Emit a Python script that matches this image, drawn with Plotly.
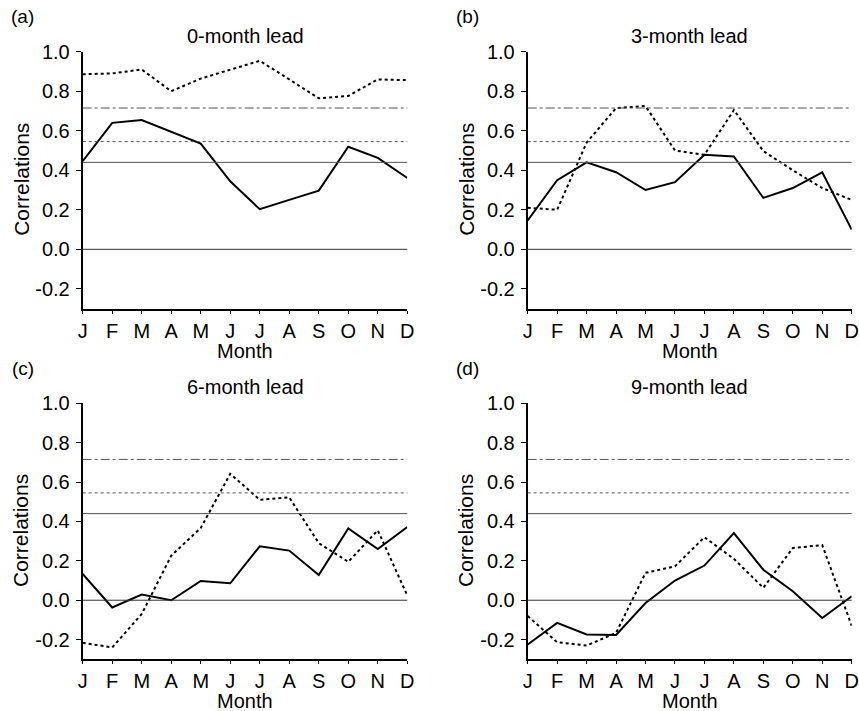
import plotly.graph_objects as go

months = [1, 2, 3, 4, 5, 6, 7, 8, 9, 10, 11, 12]
month_labels = ["J", "F", "M", "A", "M", "J", "J", "A", "S", "O", "N", "D"]
y_ticks = [-0.2, 0.0, 0.2, 0.4, 0.6, 0.8, 1.0]
y_tick_labels = ["-0.2", "0.0", "0.2", "0.4", "0.6", "0.8", "1.0"]
sig_levels = [0.44, 0.545, 0.715]
sig_dashes = ["solid", "dot", "dashdot"]

panel_letters = ["(a)", "(b)", "(c)", "(d)"]
panel_titles = ["0-month lead", "3-month lead", "6-month lead", "9-month lead"]

solid_a = [0.446, 0.64, 0.654, 0.593, 0.535, 0.344, 0.203, 0.25, 0.297, 0.519, 0.463, 0.361]
dotted_a = [0.886, 0.89, 0.91, 0.80, 0.864, 0.908, 0.954, 0.86, 0.764, 0.776, 0.86, 0.856]

solid_b = [0.146, 0.35, 0.44, 0.39, 0.30, 0.34, 0.478, 0.47, 0.26, 0.31, 0.39, 0.10]
dotted_b = [0.21, 0.20, 0.54, 0.715, 0.725, 0.50, 0.478, 0.705, 0.497, 0.40, 0.31, 0.25]

solid_c = [0.133, -0.037, 0.029, 0.0, 0.098, 0.086, 0.274, 0.252, 0.128, 0.365, 0.26, 0.372]
dotted_c = [-0.216, -0.24, -0.07, 0.226, 0.367, 0.642, 0.51, 0.522, 0.29, 0.195, 0.355, 0.024]

solid_d = [-0.225, -0.115, -0.174, -0.176, -0.014, 0.10, 0.176, 0.341, 0.155, 0.046, -0.09, 0.02]
dotted_d = [-0.08, -0.213, -0.23, -0.166, 0.139, 0.172, 0.32, 0.21, 0.063, 0.265, 0.28, -0.13]

solid_series = [solid_a, solid_b, solid_c, solid_d]
dotted_series = [dotted_a, dotted_b, dotted_c, dotted_d]

W, H = 859, 711
FONT = "Liberation Sans, Arial, sans-serif"
FS = 20

# pixel boxes of panels (left, right, top, bottom)
boxes = [
    (82.7, 407.3, 51.7, 308.6),
    (527.7, 851.7, 51.7, 308.6),
    (82.7, 407.3, 403.3, 659.3),
    (527.7, 851.7, 403.3, 659.3),
]

fig = go.Figure()
layout = dict(
    template="none",
    width=W, height=H,
    margin=dict(l=0, r=0, t=0, b=0, pad=0),
    paper_bgcolor="white", plot_bgcolor="white",
    showlegend=False,
    font=dict(family=FONT, size=FS, color="black"),
)
annotations = []
shapes = []

for i in range(4):
    n = i + 1
    L, R, T, B = boxes[i]
    xd = [L / W, R / W]
    yd = [1 - B / H, 1 - T / H]
    xa = "x" if n == 1 else f"x{n}"
    ya = "y" if n == 1 else f"y{n}"
    common_x = dict(range=[1, 12], tickvals=months, domain=xd, showgrid=False, zeroline=False,
                    automargin=False)
    common_y = dict(range=[-0.3, 1.0], tickvals=y_ticks, domain=yd, showgrid=False, zeroline=False,
                    automargin=False)
    layout[f"xaxis{n}"] = dict(
        **common_x, anchor=ya, ticktext=month_labels, ticks="outside", ticklen=3,
        tickwidth=1, tickcolor="black", showline=True, linewidth=2, linecolor="black",
        tickfont=dict(size=FS, family=FONT), ticklabelstandoff=0,
    )
    layout[f"yaxis{n}"] = dict(
        **common_y, anchor=xa, ticktext=y_tick_labels, ticks="outside", ticklen=5,
        tickwidth=1, tickcolor="black", showline=True, linewidth=2, linecolor="black",
        tickfont=dict(size=FS, family=FONT), ticklabelstandoff=2,
    )
    # top axis (thin line, inward ticks) and right axis (inward ticks)
    layout[f"xaxis{n + 4}"] = dict(
        **common_x, overlaying=xa, anchor=ya, side="top", ticks="inside", ticklen=4,
        tickwidth=1, tickcolor="black", showline=True, linewidth=1, linecolor="black",
        showticklabels=False,
    )
    layout[f"yaxis{n + 4}"] = dict(
        **common_y, overlaying=ya, anchor=xa, side="right", ticks="inside", ticklen=5,
        tickwidth=1, tickcolor="black", showline=True, linewidth=2, linecolor="black",
        showticklabels=False,
    )

    # zero line and significance levels
    shapes.append(dict(type="line", xref=f"{xa} domain", yref=ya, x0=0, x1=1, y0=0, y1=0,
                       line=dict(color="#333333", width=1)))
    for lev, dsh in zip(sig_levels, sig_dashes):
        shapes.append(dict(type="line", xref=f"{xa} domain", yref=ya, x0=0, x1=1, y0=lev, y1=lev,
                           line=dict(color="#555555", width=1, dash=dsh)))

    fig.add_trace(go.Scatter(x=months, y=dotted_series[i], mode="lines", xaxis=xa, yaxis=ya,
                             line=dict(color="black", width=2, dash="dot")))
    fig.add_trace(go.Scatter(x=months, y=solid_series[i], mode="lines", xaxis=xa, yaxis=ya,
                             line=dict(color="black", width=2)))

    cx = (L + R) / 2
    # panel letter
    annotations.append(dict(text=panel_letters[i], x=(L - 60) / W, y=1 - (T - 35) / H,
                            xref="paper", yref="paper", xanchor="center", yanchor="middle",
                            showarrow=False, font=dict(size=FS - 1)))
    # title
    annotations.append(dict(text=panel_titles[i], x=cx / W, y=1 - (T - 16) / H,
                            xref="paper", yref="paper", xanchor="center", yanchor="middle",
                            showarrow=False, font=dict(size=FS)))
    # x title
    annotations.append(dict(text="Month", x=cx / W, y=1 - (B + 42) / H,
                            xref="paper", yref="paper", xanchor="center", yanchor="middle",
                            showarrow=False, font=dict(size=FS)))
    # y title
    annotations.append(dict(text="Correlations", x=(L - 62) / W, y=1 - ((T + B) / 2 - 1) / H,
                            xref="paper", yref="paper", xanchor="center", yanchor="middle",
                            textangle=-90, showarrow=False, font=dict(size=21)))

layout["annotations"] = annotations
layout["shapes"] = shapes
fig.update_layout(**layout)
fig.write_html(
    "out.html",
    config={"displayModeBar": False},
    post_script="document.body.style.margin='0';document.body.style.overflow='hidden';",
)
